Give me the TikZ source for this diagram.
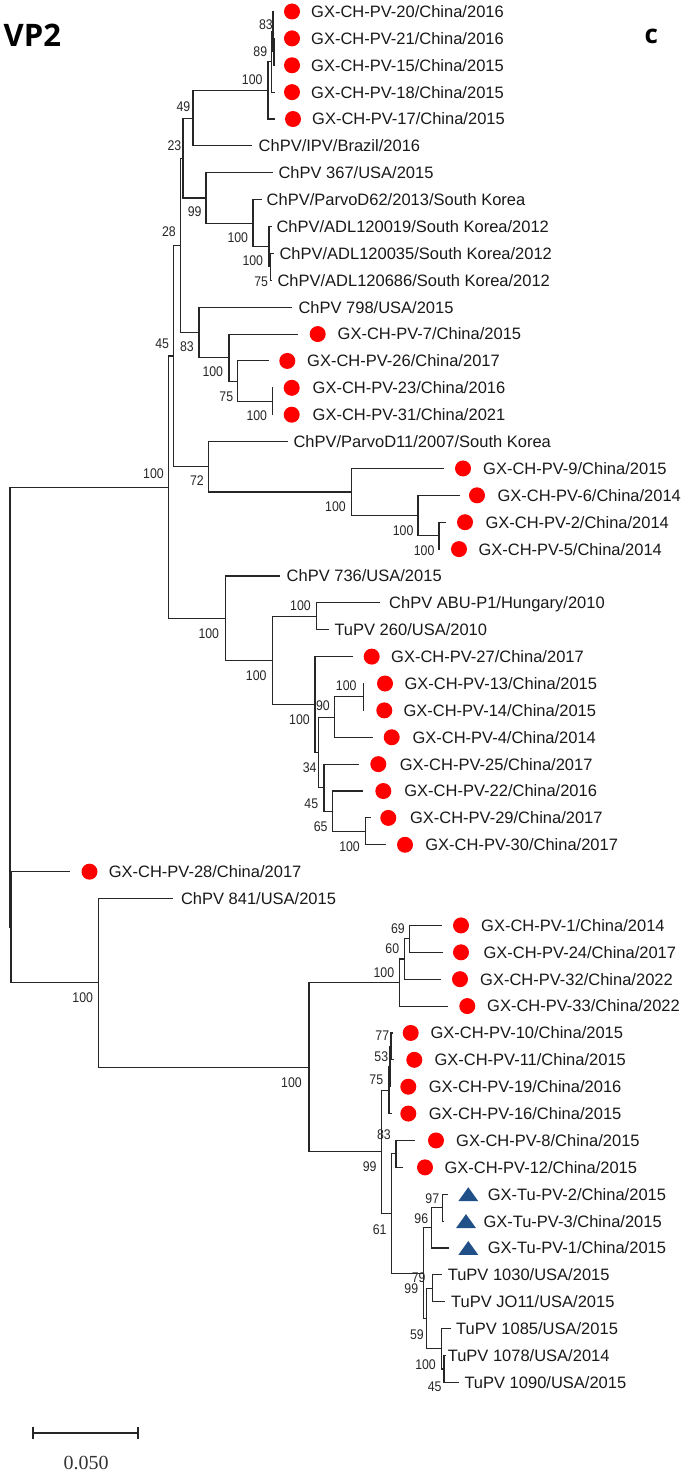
\documentclass[tikz,border=0pt]{standalone}
\usepackage{fontspec}
\setmainfont{Liberation Sans}
\newfontfamily\leaffam{Liberation Sans}
\newfontfamily\bsfam[FakeStretch=0.88]{Liberation Sans}
\newfontfamily\titlefam{Open Sans}
\newfontfamily\scalefam{Liberation Serif}
\definecolor{tublue}{RGB}{33,79,135}
\newcommand\Y[1]{11.5+26.88*(#1)}
\newcommand\lf[5]{\coordinate (#1) at (#3,{\Y{#2}}); \node[leaf] (#1t) at (#4,{\Y{#2}+5.9}) {#5};}
\newcommand\dt[3]{\node[dot] (#1d) at (#3,{\Y{#2}}) {};}
\newcommand\tri[3]{\fill[tublue] ({#3-10},{\Y{#2}+7}) -- ({#3+10},{\Y{#2}+7}) -- (#3,{\Y{#2}-7}) -- cycle;}
\newcommand\nd[3]{\coordinate (#1) at (#2,{\Y{#3}});}
\newcommand\ed[3]{\draw[br] (#1) |- (#2); \draw[br] (#1) |- (#3);}
\newcommand\bs[4]{\node[bsl] (#1) at (#3,#4) {#2};}
\begin{document}
\begin{tikzpicture}[x=1pt,y=-1pt,
  br/.style={line width=1.1pt, draw=black!85, line join=miter},
  dot/.style={circle, fill=red, inner sep=0pt, minimum size=16pt},
  leaf/.style={anchor=base west, inner sep=0pt, text=black!90, font=\leaffam\fontsize{16.5}{18}\selectfont},
  bsl/.style={anchor=east, inner sep=0pt, text=black!85, font=\bsfam\fontsize{14}{14}\selectfont}]
\useasboundingbox (0,0) rectangle (685,1474);

% titles
\node[anchor=base west, inner sep=0pt, font=\titlefam\bfseries\fontsize{31}{31}\selectfont] (title) at (3.5,47) {VP2};
\node[anchor=base west, inner sep=0pt, font=\titlefam\bfseries\fontsize{26}{26}\selectfont] (panel) at (644.5,43.3) {c};

% leaves: name, row, tip x, text x, label
\lf{c0}{0}{274}{311}{GX-CH-PV-20/China/2016}
\lf{c1}{1}{275}{311}{GX-CH-PV-21/China/2016}
\lf{c2}{2}{275}{311}{GX-CH-PV-15/China/2015}
\lf{c3}{3}{275}{311}{GX-CH-PV-18/China/2015}
\lf{c4}{4}{275}{312}{GX-CH-PV-17/China/2015}
\lf{c5}{5}{251.7}{258.5}{ChPV/IPV/Brazil/2016}
\lf{c6}{6}{273.3}{278.3}{ChPV 367/USA/2015}
\lf{c7}{7}{261.7}{266.5}{ChPV/ParvoD62/2013/South Korea}
\lf{c8}{8}{272}{276.3}{ChPV/ADL120019/South Korea/2012}
\lf{c9}{9}{274}{279.3}{ChPV/ADL120035/South Korea/2012}
\lf{c10}{10}{271}{277.3}{ChPV/ADL120686/South Korea/2012}
\lf{c11}{11}{291.7}{298.3}{ChPV 798/USA/2015}
\lf{c12}{12}{298.3}{337.5}{GX-CH-PV-7/China/2015}
\lf{c13}{13}{269}{307}{GX-CH-PV-26/China/2017}
\lf{c14}{14}{273}{312.5}{GX-CH-PV-23/China/2016}
\lf{c15}{15}{273}{312.5}{GX-CH-PV-31/China/2021}
\lf{c16}{16}{288.3}{293.3}{ChPV/ParvoD11/2007/South Korea}
\lf{c17}{17}{444}{483}{GX-CH-PV-9/China/2015}
\lf{c18}{18}{460}{497.3}{GX-CH-PV-6/China/2014}
\lf{c19}{19}{446}{485.3}{GX-CH-PV-2/China/2014}
\lf{c20}{20}{440}{478.3}{GX-CH-PV-5/China/2014}
\lf{c21}{21}{280}{286.5}{ChPV 736/USA/2015}
\lf{c22}{22}{380}{389}{ChPV ABU-P1/Hungary/2010}
\lf{c23}{23}{329}{334.3}{TuPV 260/USA/2010}
\lf{c24}{24}{352.7}{391}{GX-CH-PV-27/China/2017}
\lf{c25}{25}{364}{404.3}{GX-CH-PV-13/China/2015}
\lf{c26}{26}{364}{403.3}{GX-CH-PV-14/China/2015}
\lf{c27}{27}{373.3}{412.3}{GX-CH-PV-4/China/2014}
\lf{c28}{28}{359.3}{399.7}{GX-CH-PV-25/China/2017}
\lf{c29}{29}{363.3}{404.2}{GX-CH-PV-22/China/2016}
\lf{c30}{30}{370.7}{409.8}{GX-CH-PV-29/China/2017}
\lf{c31}{31}{385.7}{425.2}{GX-CH-PV-30/China/2017}
\lf{c32}{32}{70}{108.6}{GX-CH-PV-28/China/2017}
\lf{c33}{33}{173}{180.8}{ChPV 841/USA/2015}
\lf{c34}{34}{441.7}{481}{GX-CH-PV-1/China/2014}
\lf{c35}{35}{442.7}{483.3}{GX-CH-PV-24/China/2017}
\lf{c36}{36}{441}{480}{GX-CH-PV-32/China/2022}
\lf{c37}{37}{448.3}{487}{GX-CH-PV-33/China/2022}
\lf{c38}{38}{393}{430.3}{GX-CH-PV-10/China/2015}
\lf{c39}{39}{394.3}{434.3}{GX-CH-PV-11/China/2015}
\lf{c40}{40}{391}{428.6}{GX-CH-PV-19/China/2016}
\lf{c41}{41}{391.7}{428.6}{GX-CH-PV-16/China/2015}
\lf{c42}{42}{415}{456}{GX-CH-PV-8/China/2015}
\lf{c43}{43}{403.3}{444.3}{GX-CH-PV-12/China/2015}
\lf{c44}{44}{448.3}{487.6}{GX-Tu-PV-2/China/2015}
\lf{c45}{45}{443.5}{483.3}{GX-Tu-PV-3/China/2015}
\lf{c46}{46}{449.3}{487.6}{GX-Tu-PV-1/China/2015}
\lf{c47}{47}{441.7}{447.6}{TuPV 1030/USA/2015}
\lf{c48}{48}{445}{451}{TuPV JO11/USA/2015}
\lf{c49}{49}{450.7}{456}{TuPV 1085/USA/2015}
\lf{c50}{50}{446}{447.6}{TuPV 1078/USA/2014}
\lf{c51}{51}{459.3}{464.3}{TuPV 1090/USA/2015}

% markers
\dt{c0}{0}{292}\dt{c1}{1}{292}\dt{c2}{2}{292}\dt{c3}{3}{292}\dt{c4}{4}{293}
\dt{c12}{12}{317.7}\dt{c13}{13}{287.3}\dt{c14}{14}{291.7}\dt{c15}{15}{291.7}
\dt{c17}{17}{463}\dt{c18}{18}{477}\dt{c19}{19}{465}\dt{c20}{20}{459}
\dt{c24}{24}{371.7}\dt{c25}{25}{385}\dt{c26}{26}{384.3}\dt{c27}{27}{391.7}
\dt{c28}{28}{378.3}\dt{c29}{29}{383.3}\dt{c30}{30}{388.3}\dt{c31}{31}{405}
\dt{c32}{32}{89.5}
\dt{c34}{34}{461}\dt{c35}{35}{461}\dt{c36}{36}{460}\dt{c37}{37}{467.3}
\dt{c38}{38}{410.7}\dt{c39}{39}{414.3}\dt{c40}{40}{408.3}\dt{c41}{41}{408.3}
\dt{c42}{42}{436}\dt{c43}{43}{425}
\tri{c44}{44}{468.3}\tri{c45}{45}{466}\tri{c46}{46}{468.3}

% internal nodes: name, x, row position
\nd{nx}{274}{1.5}
\nd{na83}{273}{0.75}
\nd{na89}{271.5}{1.875}
\nd{nqt}{268}{2.9375}
\nd{na49}{193}{3.96875}
\nd{na75}{270.5}{9.5}
\nd{nqc}{269}{8.75}
\nd{nqb}{253}{7.875}
\nd{na99}{206}{6.9375}
\nd{na23}{183}{5.453125}
\nd{nq23}{272.3}{14.5}
\nd{nb75}{237.7}{13.75}
\nd{nq7}{229}{12.875}
\nd{nb83}{199}{11.9375}
\nd{na28}{180.7}{8.6953}
\nd{nq2}{439}{19.5}
\nd{nq6}{418}{18.75}
\nd{nq9}{351.7}{17.875}
\nd{na72}{208.3}{16.9375}
\nd{na45}{173.3}{12.8164}
\nd{nqabu}{316.7}{22.5}
\nd{nq13}{363.3}{25.5}
\nd{na90}{334.3}{26.25}
\nd{nq29}{365.7}{30.5}
\nd{na65}{332.7}{29.75}
\nd{nb45}{324}{28.875}
\nd{na34}{318.3}{27.5625}
\nd{nq27}{315}{25.78125}
\nd{nqmid}{272.7}{24.140625}
\nd{nq736}{225.7}{22.5703}
\nd{nqup}{168.3}{17.6934}
\nd{na69}{409.3}{34.5}
\nd{na60}{404.3}{35.25}
\nd{nq1}{399.3}{36.125}
\nd{na77}{391}{38.5}
\nd{na53}{390}{39.25}
\nd{nc75}{389}{40.125}
\nd{nc83}{396}{42.5}
\nd{na97}{442.7}{44.5}
\nd{na96}{431.7}{45.25}
\nd{na79}{432.3}{47.5}
\nd{nc45}{444}{50.5}
\nd{nqx}{441.7}{49.75}
\nd{na59}{426.7}{48.625}
\nd{nb99}{423.3}{46.9375}
\nd{na61}{391.7}{44.71875}
\nd{nc99}{381.7}{42.421875}
\nd{nqbig}{309}{39.2734}
\nd{nqlow}{98.5}{36.1367}
\nd{nroot2}{11}{34.0684}
\nd{root}{10}{25.88}

% branches: parent, child, child
\ed{nx}{c1}{c2}
\ed{na83}{c0}{nx}
\ed{na89}{na83}{c3}
\ed{nqt}{na89}{c4}
\ed{na49}{nqt}{c5}
\ed{na75}{c9}{c10}
\ed{nqc}{c8}{na75}
\ed{nqb}{c7}{nqc}
\ed{na99}{c6}{nqb}
\ed{na23}{na49}{na99}
\ed{nq23}{c14}{c15}
\ed{nb75}{c13}{nq23}
\ed{nq7}{c12}{nb75}
\ed{nb83}{c11}{nq7}
\ed{na28}{na23}{nb83}
\ed{nq2}{c19}{c20}
\ed{nq6}{c18}{nq2}
\ed{nq9}{c17}{nq6}
\ed{na72}{c16}{nq9}
\ed{na45}{na28}{na72}
\ed{nqabu}{c22}{c23}
\ed{nq13}{c25}{c26}
\ed{na90}{nq13}{c27}
\ed{nq29}{c30}{c31}
\ed{na65}{c29}{nq29}
\ed{nb45}{c28}{na65}
\ed{na34}{na90}{nb45}
\ed{nq27}{c24}{na34}
\ed{nqmid}{nqabu}{nq27}
\ed{nq736}{c21}{nqmid}
\ed{nqup}{na45}{nq736}
\ed{na69}{c34}{c35}
\ed{na60}{na69}{c36}
\ed{nq1}{na60}{c37}
\ed{na77}{c38}{c39}
\ed{na53}{na77}{c40}
\ed{nc75}{na53}{c41}
\ed{nc83}{c42}{c43}
\ed{na97}{c44}{c45}
\ed{na96}{na97}{c46}
\ed{na79}{c47}{c48}
\ed{nc45}{c50}{c51}
\ed{nqx}{c49}{nc45}
\ed{na59}{na79}{nqx}
\ed{nb99}{na96}{na59}
\ed{na61}{nc83}{nb99}
\ed{nc99}{nc75}{na61}
\ed{nqbig}{nq1}{nc99}
\ed{nqlow}{c33}{nqbig}
\ed{nroot2}{c32}{nqlow}
\ed{root}{nqup}{nroot2}

% bootstrap values: name, text, right x, centre y
\bs{b1}{83}{273}{25}
\bs{b2}{89}{267.3}{52}
\bs{b3}{100}{262.7}{80}
\bs{b4}{49}{190.5}{106.7}
\bs{b5}{23}{181.5}{145.7}
\bs{b6}{99}{201.7}{211.7}
\bs{b7}{28}{176}{231.7}
\bs{b8}{100}{248.3}{237.3}
\bs{b9}{100}{263.3}{261}
\bs{b10}{75}{268.3}{281.7}
\bs{b11}{45}{169.3}{343.3}
\bs{b12}{83}{194}{346.7}
\bs{b13}{100}{223.3}{371.7}
\bs{b14}{75}{233.3}{396.7}
\bs{b15}{100}{267.3}{416}
\bs{b16}{100}{164}{473.3}
\bs{b17}{72}{204}{481}
\bs{b18}{100}{346}{506.7}
\bs{b19}{100}{413.6}{530.7}
\bs{b20}{100}{434.6}{551}
\bs{b21}{100}{219.3}{633.3}
\bs{b22}{100}{311}{605.7}
\bs{b23}{100}{266.7}{676}
\bs{b24}{100}{356.7}{686}
\bs{b25}{90}{330}{705.7}
\bs{b26}{100}{310}{719.3}
\bs{b27}{34}{316.7}{767.3}
\bs{b28}{45}{318.3}{803.3}
\bs{b29}{65}{327.7}{826.7}
\bs{b30}{100}{360}{846.7}
\bs{b31}{100}{93.2}{998}
\bs{b32}{100}{302}{1082.7}
\bs{b33}{69}{405}{928.3}
\bs{b34}{60}{399.3}{948.3}
\bs{b35}{100}{394.3}{972.7}
\bs{b36}{77}{389.3}{1036}
\bs{b37}{53}{388.3}{1056.7}
\bs{b38}{75}{383.3}{1079.3}
\bs{b39}{83}{391}{1135}
\bs{b40}{99}{376.7}{1166.7}
\bs{b41}{61}{386.7}{1230}
\bs{b42}{97}{439.3}{1198.3}
\bs{b43}{96}{428.3}{1218.3}
\bs{b44}{79}{425.7}{1277.3}
\bs{b45}{99}{418.3}{1288.3}
\bs{b46}{59}{424}{1334.3}
\bs{b47}{100}{436}{1365}
\bs{b48}{45}{441.7}{1386.7}

% scale bar
\coordinate (sbL) at (33,1432.7);
\coordinate (sbR) at (138,1432.7);
\draw[line width=2pt, black!85] (sbL) -- (sbR);
\draw[line width=1.6pt, black!85] ([yshift=-6pt]sbL) -- ([yshift=6pt]sbL);
\draw[line width=1.6pt, black!85] ([yshift=-6pt]sbR) -- ([yshift=6pt]sbR);
\node[inner sep=0pt, text=black!80, font=\scalefam\fontsize{20}{20}\selectfont] (sbtext) at (86,1463.3) {0.050};
\end{tikzpicture}
\end{document}
